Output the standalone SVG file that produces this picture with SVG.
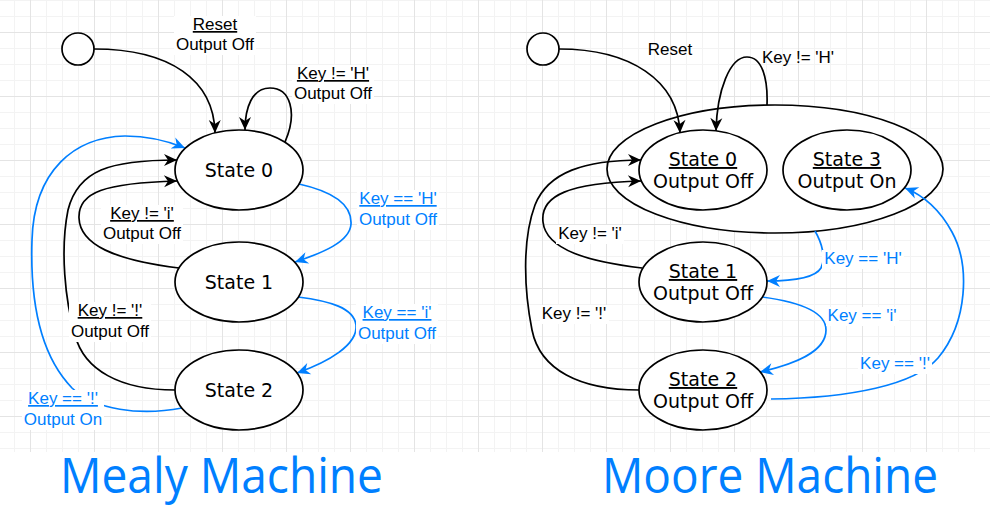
<svg xmlns="http://www.w3.org/2000/svg" width="994" height="513" viewBox="0 0 994 513">
<defs>
<style>
.lbl{font-family:"Liberation Sans",Arial,sans-serif;font-size:17px;text-anchor:middle;fill:#000}
.st{font-family:"DejaVu Sans",Verdana,sans-serif;font-size:19px;text-anchor:middle;fill:#000}
.u{text-decoration:underline}
.blue{fill:#007FFF}
.bg{fill:#fff}
.node{fill:#fff;stroke:#000;stroke-width:1.7}
.edge{fill:none;stroke:#000;stroke-width:1.7}
.edge.b{stroke:#007FFF}
.title{font-family:"Open Sans","Noto Sans",sans-serif;font-size:49px;fill:#007FFF}
</style>
<pattern id="grid" patternUnits="userSpaceOnUse" x="30" y="32" width="64" height="64">
<path d="M16.5 0V64M32.5 0V64M48.5 0V64M0 16.5H64M0 32.5H64M0 48.5H64" stroke="#f3f3f3" stroke-width="1" fill="none"/>
<path d="M0.5 0V64M0 0.5H64" stroke="#e4e4e4" stroke-width="1" fill="none"/>
</pattern>
<marker id="ak" markerUnits="userSpaceOnUse" markerWidth="16" markerHeight="16" viewBox="0 0 16 14" refX="14" refY="7" orient="auto">
<path d="M1,1 L14,7 L1,13 L5,7 z" fill="#000"/>
</marker>
<marker id="ab" markerUnits="userSpaceOnUse" markerWidth="16" markerHeight="16" viewBox="0 0 16 14" refX="14" refY="7" orient="auto">
<path d="M1,1 L14,7 L1,13 L5,7 z" fill="#007FFF"/>
</marker>
</defs>
<rect x="0" y="0" width="990" height="452" fill="#fff"/>
<rect x="0" y="0" width="990" height="452" fill="url(#grid)"/>

<g id="moore-group">
<ellipse class="node" cx="775" cy="169" rx="168" ry="64"/>
</g>

<g id="connectors">
<path class="edge" d="M94 49 C 170 49, 214 80, 215 133" marker-end="url(#ak)"/>
<path class="edge" d="M285 142 C 298 112, 290 88, 270 88 C 252 88, 245 108, 245 130" marker-end="url(#ak)"/>
<path class="edge b" d="M299 184 C 335 192, 352 205, 351 224 C 350 242, 322 253, 295 262" marker-end="url(#ab)"/>
<path class="edge b" d="M298 297 C 330 301, 354 308, 356 325 C 358 345, 328 362, 297 373" marker-end="url(#ab)"/>
<path class="edge" d="M179 268 C 115 260, 80 245, 79 218 C 78 192, 105 183, 177 181" marker-end="url(#ak)"/>
<path class="edge" d="M175 390 C 120 390, 84 370, 75 335 C 65 300, 60 250, 68 210 C 78 170, 110 160, 177 160" marker-end="url(#ak)"/>
<path class="edge b" d="M182 408 C 140 416, 95 410, 72 388 C 40 355, 30 300, 32 240 C 34 170, 75 137, 125 136 C 150 136, 168 141, 185 148" marker-end="url(#ab)"/>

<path class="edge" d="M559 49 C 630 49, 678 80, 680 133" marker-end="url(#ak)"/>
<path class="edge" d="M767 105 C 768 78, 762 57, 747 57 C 730 57, 717 90, 716 131" marker-end="url(#ak)"/>
<path class="edge" d="M642 268 C 590 262, 546 250, 543 222 C 540 195, 570 183, 641 181" marker-end="url(#ak)"/>
<path class="edge" d="M639 390 C 580 390, 540 370, 532 330 C 524 290, 522 240, 535 205 C 548 172, 585 160, 641 160" marker-end="url(#ak)"/>
<path class="edge b" d="M815 231 C 822 243, 826 258, 821 268 C 815 278, 795 281, 767 281" marker-end="url(#ab)"/>
<path class="edge b" d="M762 297 C 800 302, 826 312, 826 330 C 826 352, 795 364, 760 372" marker-end="url(#ab)"/>
<path class="edge b" d="M771 399 C 850 398, 915 385, 938 358 C 968 322, 970 265, 952 232 C 940 210, 925 196, 905 188" marker-end="url(#ab)"/>

<g id="edge-labels">
<rect class="bg" x="174" y="16" width="82" height="39"/>
<text class="lbl u" x="215" y="30">Reset</text>
<text class="lbl" x="215" y="50">Output Off</text>

<rect class="bg" x="292" y="65" width="82" height="39"/>
<text class="lbl u" x="333" y="79">Key != 'H'</text>
<text class="lbl" x="333" y="99">Output Off</text>

<rect class="bg" x="357" y="190" width="82" height="40"/>
<text class="lbl u blue" x="398" y="204">Key == 'H'</text>
<text class="lbl blue" x="398" y="225">Output Off</text>

<rect class="bg" x="101" y="205" width="82" height="39"/>
<text class="lbl u" x="142" y="219">Key != 'i'</text>
<text class="lbl" x="142" y="239">Output Off</text>

<rect class="bg" x="69" y="302" width="82" height="40"/>
<text class="lbl u" x="110" y="316">Key != '!'</text>
<text class="lbl" x="110" y="337">Output Off</text>

<rect class="bg" x="22" y="390" width="82" height="40"/>
<text class="lbl u blue" x="63" y="404">Key == '!'</text>
<text class="lbl blue" x="63" y="425">Output On</text>

<rect class="bg" x="356" y="304" width="82" height="40"/>
<text class="lbl u blue" x="397" y="318">Key == 'i'</text>
<text class="lbl blue" x="397" y="339">Output Off</text>

<text class="lbl" x="670" y="55">Reset</text>
<text class="lbl" x="798" y="63">Key != 'H'</text>

<rect class="bg" x="556" y="225" width="68" height="19"/>
<text class="lbl" x="590" y="239">Key != 'i'</text>

<rect class="bg" x="540" y="305" width="69" height="19"/>
<text class="lbl" x="574" y="319">Key != '!'</text>

<rect class="bg" x="822" y="250" width="82" height="19"/>
<text class="lbl blue" x="863" y="264">Key == 'H'</text>

<rect class="bg" x="826" y="307" width="73" height="19"/>
<text class="lbl blue" x="862" y="321">Key == 'i'</text>

<rect class="bg" x="858" y="355" width="74" height="19"/>
<text class="lbl blue" x="895" y="369">Key == '!'</text>
</g>
</g>

<g id="mealy-start"><circle class="node" cx="78" cy="49" r="16"/></g>
<g id="mealy-state0"><ellipse class="node" cx="239" cy="170" rx="64" ry="40"/><text class="st" x="239" y="177">State 0</text></g>
<g id="mealy-state1"><ellipse class="node" cx="239" cy="282" rx="64" ry="40"/><text class="st" x="239" y="289">State 1</text></g>
<g id="mealy-state2"><ellipse class="node" cx="239" cy="390" rx="64" ry="40"/><text class="st" x="239" y="397">State 2</text></g>

<g id="moore-start"><circle class="node" cx="543" cy="49" r="16"/></g>
<g id="moore-state0"><ellipse class="node" cx="703" cy="170" rx="64" ry="40"/><text class="st u" x="703" y="166">State 0</text><text class="st" x="703" y="188">Output Off</text></g>
<g id="moore-state3"><ellipse class="node" cx="847" cy="170" rx="64" ry="40"/><text class="st u" x="847" y="166">State 3</text><text class="st" x="847" y="188">Output On</text></g>
<g id="moore-state1"><ellipse class="node" cx="703" cy="282" rx="64" ry="40"/><text class="st u" x="703" y="278">State 1</text><text class="st" x="703" y="300">Output Off</text></g>
<g id="moore-state2"><ellipse class="node" cx="703" cy="390" rx="64" ry="40"/><text class="st u" x="703" y="386">State 2</text><text class="st" x="703" y="408">Output Off</text></g>

<g id="titles">
<text class="title" x="60" y="493" textLength="323" lengthAdjust="spacingAndGlyphs">Mealy Machine</text>
<text class="title" x="602" y="493" textLength="336" lengthAdjust="spacingAndGlyphs">Moore Machine</text>
</g>
</svg>
